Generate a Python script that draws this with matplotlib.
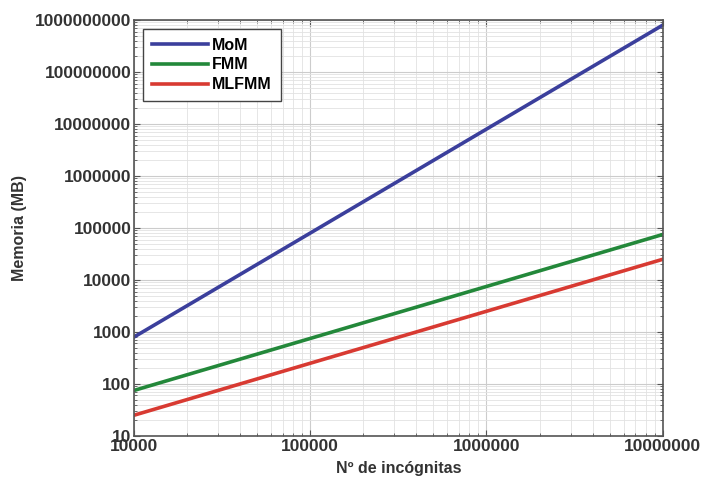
import matplotlib
matplotlib.use('Agg')
import matplotlib.pyplot as plt
from matplotlib.ticker import LogLocator, FuncFormatter, NullFormatter

plt.rcParams['font.family'] = ['Liberation Sans', 'DejaVu Sans']

# unknowns vs memory (MB)
n_unknowns = [1e4, 1e5, 1e6, 1e7]
mom = [800, 8e4, 8e6, 8e8]
fmm = [75, 750, 7500, 75000]
mlfmm = [25, 250, 2500, 25000]

fig = plt.figure(figsize=(7.02, 4.79), dpi=100)
ax = fig.add_axes([0.191, 0.090, 0.753, 0.868])

ax.plot(n_unknowns, mom, color='#3b3f9c', lw=2.6, label='MoM')
ax.plot(n_unknowns, fmm, color='#23883a', lw=2.6, label='FMM')
ax.plot(n_unknowns, mlfmm, color='#d83a32', lw=2.6, label='MLFMM')

ax.set_xscale('log')
ax.set_yscale('log')
ax.set_xlim(1e4, 1e7)
ax.set_ylim(10, 1e9)

fmt = FuncFormatter(lambda v, p: '%d' % round(v))
ax.xaxis.set_major_locator(LogLocator(base=10))
ax.yaxis.set_major_locator(LogLocator(base=10, numticks=20))
ax.xaxis.set_major_formatter(fmt)
ax.yaxis.set_major_formatter(fmt)
ax.yaxis.set_minor_locator(LogLocator(base=10, subs=range(2, 10), numticks=20))
ax.xaxis.set_minor_formatter(NullFormatter())
ax.yaxis.set_minor_formatter(NullFormatter())

ax.grid(True, which='major', color='#cccccc', lw=0.8)
ax.grid(True, which='minor', color='#e2e2e2', lw=0.6)
ax.tick_params(which='both', direction='in', top=True, right=True, color='#555555')
ax.tick_params(which='major', length=4, labelsize=12.5, pad=2)
ax.tick_params(which='minor', length=2)
for lab in ax.get_xticklabels() + ax.get_yticklabels():
    lab.set_fontweight('semibold')
    lab.set_color('#333333')
for s in ax.spines.values():
    s.set_color('#555555')
    s.set_linewidth(1.2)

ax.set_xlabel('Nº de incógnitas', fontsize=11.5, fontweight='semibold', color='#333333', labelpad=5)
ax.set_ylabel('Memoria (MB)', fontsize=11.5, fontweight='semibold', color='#333333', labelpad=6)

leg = ax.legend(loc='upper left', fancybox=False, edgecolor='#444444',
                framealpha=1, handlelength=3.5, handletextpad=0.3,
                labelspacing=0.3, borderaxespad=0.55, borderpad=0.55,
                prop={'weight': 'semibold', 'size': 11.5})
leg.get_frame().set_linewidth(1.0)

fig.savefig('out.png', dpi=100)
